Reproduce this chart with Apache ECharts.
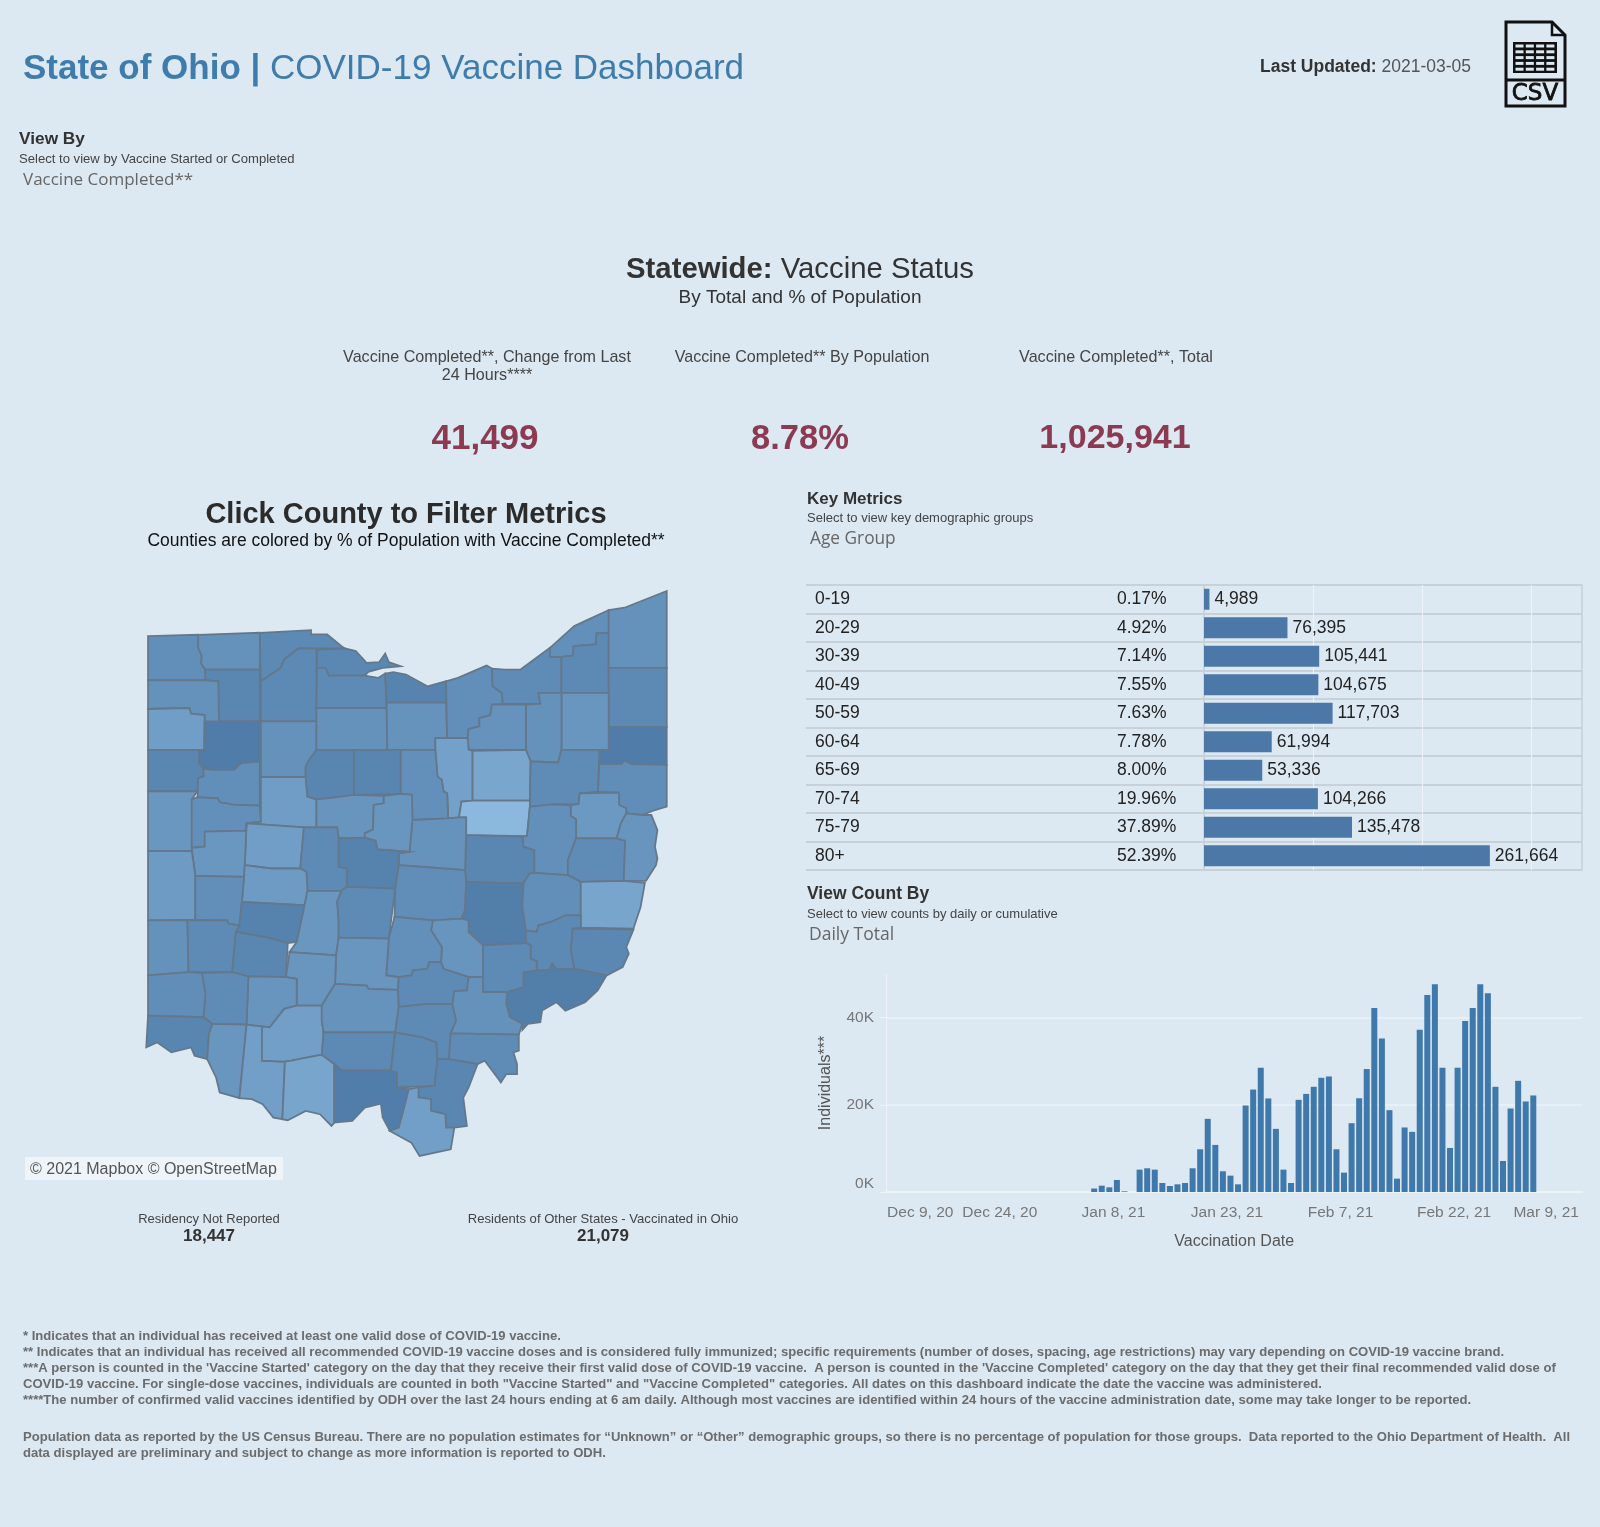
<!DOCTYPE html>
<html lang="en">
<head>
<meta charset="UTF-8" />
<title>State of Ohio | COVID-19 Vaccine Dashboard</title>
<script src="https://cdn.jsdelivr.net/npm/echarts@6/dist/echarts.min.js"></script>
<style>
    html, body { margin: 0; padding: 0; background: #dce8f2; }
    #main { width: 1600px; height: 1527px; }
</style>
</head>
<body>
<div id="main"></div>
<script>
// age group table
var ageGroups = ['0-19', '20-29', '30-39', '40-49', '50-59', '60-64', '65-69', '70-74', '75-79', '80+'];
var agePercents = ['0.17%', '4.92%', '7.14%', '7.55%', '7.63%', '7.78%', '8.00%', '19.96%', '37.89%', '52.39%'];
var ageCounts = [4989, 76395, 105441, 104675, 117703, 61994, 53336, 104266, 135478, 261664];

// daily totals, one per day from Dec 9, 20
var dailyTotals = [
    0, 0, 0, 0, 0, 0, 0, 0, 0, 0, 0, 0, 0, 0, 0, 0, 0, 0, 0, 0, 0, 0, 0, 0, 0, 0, 0,
    800, 1450, 1070, 2760, 150, 0, 5130, 5440, 5130, 2070, 1380, 1760, 2070, 5440, 9800, 16780,
    10800, 4750, 3750, 1760, 19840, 23500, 28500, 21450, 14480, 5130, 2070, 21140, 22500, 24130,
    26200, 26500, 9800, 4440, 15780, 21500, 28200, 42200, 35200, 18770, 3060, 14800, 13800, 37200,
    45200, 47650, 28500, 10100, 28500, 39200, 42200, 47650, 45600, 24130, 7120, 19150, 25500,
    20760, 22140, 0, 0, 0, 0, 0, 0
];
var dailyFirstDay = Date.UTC(2020, 11, 9);
var monthNames = ['Jan', 'Feb', 'Mar', 'Apr', 'May', 'Jun', 'Jul', 'Aug', 'Sep', 'Oct', 'Nov', 'Dec'];

// % of population with vaccine completed, same order as countyNames
var countyNames = ['Williams', 'Fulton', 'Lucas', 'Wood', 'Henry', 'Defiance', 'Paulding', 'Putnam', 'Van Wert', 'Allen', 'Mercer', 'Auglaize',
    'Hancock', 'Hardin', 'Ottawa', 'Sandusky', 'Erie', 'Seneca', 'Huron', 'Lorain', 'Cuyahoga', 'Lake', 'Geauga', 'Ashtabula',
    'Trumbull', 'Mahoning', 'Portage', 'Summit', 'Medina', 'Ashland', 'Richland', 'Wayne', 'Stark', 'Columbiana', 'Holmes', 'Carroll',
    'Tuscarawas', 'Harrison', 'Jefferson', 'Coshocton', 'Knox', 'Wyandot', 'Crawford', 'Marion', 'Morrow', 'Logan', 'Shelby', 'Darke',
    'Union', 'Delaware', 'Champaign', 'Miami', 'Clark', 'Preble', 'Montgomery', 'Greene', 'Madison', 'Franklin', 'Licking', 'Muskingum',
    'Guernsey', 'Belmont', 'Monroe', 'Noble', 'Washington', 'Morgan', 'Perry', 'Fairfield', 'Pickaway', 'Fayette', 'Clinton', 'Warren',
    'Butler', 'Hamilton', 'Clermont', 'Brown', 'Highland', 'Adams', 'Ross', 'Pike', 'Scioto', 'Jackson', 'Vinton', 'Hocking',
    'Athens', 'Meigs', 'Gallia', 'Lawrence'];
var countyPercents = [8.6, 8.8, 8.2, 8.2, 8.0, 8.8, 9.7, 7.2, 8.0, 8.6, 9.2, 8.7,
    8.8, 9.6, 8.1, 8.3, 7.8, 8.8, 8.9, 8.6, 8.4, 8.7, 8.2, 8.8,
    8.2, 7.2, 9.1, 8.8, 8.9, 9.9, 8.7, 10.3, 8.4, 8.5, 11.6, 9.3,
    8.7, 8.4, 9.0, 8.0, 8.9, 7.9, 7.9, 9.0, 9.1, 9.7, 9.2, 9.5,
    8.3, 7.7, 9.5, 8.6, 7.7, 8.8, 8.3, 8.0, 9.2, 8.3, 8.5, 7.4,
    8.6, 10.2, 8.1, 8.2, 7.4, 8.3, 9.0, 8.7, 9.1, 9.1, 9.0, 8.4,
    8.5, 7.9, 9.1, 9.8, 9.8, 10.2, 8.9, 8.2, 7.3, 8.2, 8.3, 8.3,
    8.8, 8.4, 8.0, 9.8];

// county outlines, x and y in trace units
var countyOutlines = {
    'Williams': '50,200 190,196 190,235 200,260 198,282 210,300 210,332 50,332',
    'Fulton': '190,196 362,190 362,300 210,300 198,282 200,260 190,235',
    'Lucas': '362,190 505,182 505,195 550,195 590,230 600,237 470,237 430,270 420,295 365,335',
    'Wood': '365,335 420,295 430,270 470,237 520,237 520,455 365,455',
    'Henry': '210,300 362,300 362,455 248,455 246,335 210,332',
    'Defiance': '50,332 210,332 246,335 248,455 208,456 208,436 170,432 165,415 50,418',
    'Paulding': '50,418 165,415 170,432 208,436 206,540 50,540',
    'Putnam': '208,456 362,455 362,575 310,580 290,600 230,600 200,590 192,580 192,545 208,540',
    'Van Wert': '50,540 192,540 192,580 205,597 205,620 190,625 188,664 50,664',
    'Allen': '290,600 310,580 362,575 362,707 290,705 250,697 245,685 188,682 190,625 205,620 205,597 230,600',
    'Mercer': '50,664 188,664 172,688 172,843 50,843',
    'Auglaize': '172,688 188,682 245,685 250,697 290,705 362,707 365,755 325,760 322,782 210,785 208,830 172,833',
    'Hancock': '365,455 520,455 520,540 497,575 490,590 490,622 365,622',
    'Hardin': '365,622 490,622 495,680 520,688 520,772 485,772 325,760 365,755',
    'Ottawa': '522,240 600,237 630,245 660,280 695,278 712,252 722,278 755,290 705,295 665,307 655,318 555,318 545,295 522,295',
    'Sandusky': '522,295 545,295 555,318 655,318 692,325 712,312 716,415 520,415',
    'Erie': '712,312 735,308 770,315 830,350 882,335 882,399 716,399',
    'Seneca': '520,415 716,415 718,540 520,540',
    'Huron': '716,399 882,399 885,505 852,505 852,540 718,540',
    'Lorain': '882,335 915,325 995,288 1010,297 1012,350 1038,370 1040,403 1010,405 1005,437 975,445 975,470 945,478 942,505 885,505',
    'Cuyahoga': '1010,297 1045,300 1090,300 1172,235 1172,262 1204,262 1204,370 1140,370 1145,403 1040,403 1038,370 1012,350',
    'Lake': '1172,235 1240,170 1280,150 1336,122 1336,190 1302,192 1300,225 1238,230 1236,258 1204,262 1172,262',
    'Geauga': '1204,262 1236,258 1238,230 1300,225 1302,192 1336,190 1336,370 1204,370',
    'Ashtabula': '1336,122 1380,115 1498,65 1498,295 1336,295',
    'Trumbull': '1336,295 1498,295 1498,472 1336,472',
    'Mahoning': '1336,472 1498,472 1498,585 1400,583 1382,573 1370,583 1310,583 1310,540 1336,540',
    'Portage': '1204,370 1336,370 1336,540 1204,540',
    'Summit': '1140,370 1204,370 1204,540 1195,578 1118,575 1105,540 1105,405 1145,403',
    'Medina': '1010,405 1105,405 1105,540 945,540 942,505 945,478 975,470 975,445 1005,437',
    'Ashland': '852,505 942,505 945,540 956,543 956,692 925,695 918,742 888,745 885,670 875,665 870,630 858,620 852,540',
    'Richland': '755,540 852,540 858,620 870,630 875,665 885,670 888,745 788,750 787,675 755,672',
    'Wayne': '956,543 1105,540 1118,575 1116,692 956,692',
    'Stark': '1118,575 1195,578 1204,540 1310,540 1306,665 1255,670 1252,702 1180,703 1116,710',
    'Columbiana': '1310,583 1370,583 1382,573 1400,583 1498,585 1498,710 1460,722 1430,735 1385,730 1385,715 1365,705 1365,668 1306,665',
    'Holmes': '956,692 1116,692 1116,710 1108,798 938,795 938,742 918,742 925,695',
    'Carroll': '1255,670 1365,668 1365,705 1385,715 1385,730 1370,760 1358,805 1245,805 1245,748 1230,738 1230,706 1252,702',
    'Tuscarawas': '1116,710 1180,703 1230,706 1230,738 1245,748 1245,805 1222,870 1222,915 1128,908 1128,840 1098,830 1095,800 1108,798',
    'Harrison': '1245,805 1358,805 1382,812 1378,932 1258,935 1222,915 1222,870',
    'Jefferson': '1385,730 1430,735 1455,735 1472,780 1465,830 1472,865 1468,885 1440,932 1378,932 1382,812 1358,805 1370,760',
    'Coshocton': '938,795 1095,800 1098,830 1128,840 1128,908 1115,910 1098,940 938,935 935,900',
    'Knox': '788,750 888,745 918,742 938,742 938,795 935,900 838,892 750,885 750,850 780,845',
    'Wyandot': '520,540 625,540 625,675 550,685 520,688 495,680 490,622 490,590 497,575',
    'Crawford': '625,540 755,540 755,672 625,675',
    'Marion': '520,688 550,685 625,675 708,678 708,700 680,705 678,778 655,790 655,803 582,805 578,772 520,772',
    'Morrow': '708,678 755,672 787,675 788,750 780,845 690,838 685,812 655,803 655,790 678,778 680,705 708,700',
    'Logan': '325,760 485,772 475,895 395,895 320,885',
    'Shelby': '208,785 322,782 325,760 320,885 318,920 182,917 172,833 208,830',
    'Darke': '50,843 172,843 182,917 182,1048 50,1050',
    'Union': '485,772 578,772 582,805 582,890 605,895 605,950 590,962 495,962 492,905 475,895',
    'Delaware': '582,805 655,803 685,812 690,838 780,845 750,850 750,885 740,955 605,950 605,895 582,890',
    'Champaign': '320,885 395,895 475,895 492,905 495,962 487,1005 312,995 318,920',
    'Miami': '182,917 318,920 312,995 305,1065 275,1060 270,1050 182,1048',
    'Clark': '312,995 487,1005 465,1115 440,1118 385,1102 295,1085 305,1065',
    'Preble': '50,1050 160,1050 163,1205 50,1215',
    'Montgomery': '160,1050 270,1050 275,1060 305,1065 295,1085 285,1205 163,1205',
    'Greene': '295,1085 385,1102 440,1118 435,1220 330,1218 285,1205',
    'Madison': '495,962 590,962 578,995 582,1050 582,1102 575,1155 445,1145 465,1115 487,1005',
    'Franklin': '605,950 740,955 722,1105 582,1102 582,1050 578,995 590,962',
    'Licking': '750,885 838,892 935,900 938,935 935,1020 925,1045 845,1050 738,1040 740,955',
    'Muskingum': '938,935 1098,940 1095,1010 1105,1080 1105,1118 985,1125 980,1120 945,1085 945,1050 925,1045 935,1020',
    'Guernsey': '1115,910 1128,908 1222,915 1258,935 1258,1035 1215,1035 1175,1055 1140,1065 1135,1085 1105,1080 1095,1010 1098,940',
    'Belmont': '1258,935 1378,932 1437,938 1425,1010 1405,1075 1258,1072',
    'Monroe': '1235,1075 1405,1078 1385,1130 1392,1150 1375,1190 1330,1215 1240,1195 1230,1140',
    'Noble': '1105,1080 1135,1085 1140,1065 1175,1055 1215,1035 1258,1035 1258,1072 1235,1075 1230,1140 1240,1195 1190,1195 1178,1180 1170,1200 1135,1200 1135,1172 1118,1165 1118,1125 1105,1118',
    'Washington': '1098,1205 1135,1200 1170,1200 1178,1180 1190,1195 1240,1195 1330,1215 1305,1260 1270,1295 1215,1320 1190,1295 1150,1320 1145,1355 1110,1360 1095,1378 1095,1360 1060,1340 1050,1300 1052,1265 1098,1250',
    'Morgan': '985,1125 1105,1118 1118,1125 1118,1165 1135,1172 1135,1200 1098,1205 1098,1250 1052,1265 985,1265',
    'Perry': '845,1050 925,1045 945,1050 945,1085 980,1120 985,1125 985,1220 945,1220 875,1195 868,1175 870,1130 840,1080',
    'Fairfield': '738,1040 845,1050 840,1080 870,1130 868,1175 835,1175 830,1195 790,1200 785,1215 750,1220 715,1215 722,1105',
    'Pickaway': '582,1102 722,1105 715,1215 750,1220 748,1258 665,1255 660,1245 572,1240 575,1155',
    'Fayette': '445,1145 575,1155 572,1240 535,1305 465,1305 465,1225 435,1220',
    'Clinton': '330,1218 435,1220 465,1225 465,1305 430,1315 390,1370 325,1362',
    'Warren': '200,1208 285,1205 330,1218 325,1362 230,1360 205,1340 210,1270',
    'Butler': '50,1215 163,1205 200,1208 210,1270 205,1340 50,1335',
    'Hamilton': '50,1335 205,1340 230,1360 220,1390 215,1465 180,1455 170,1430 115,1445 75,1415 45,1430',
    'Clermont': '230,1360 325,1362 305,1582 250,1565 240,1520 215,1465 220,1390',
    'Brown': '325,1362 390,1370 368,1368 368,1470 432,1473 425,1645 400,1640 370,1600 340,1585 305,1582',
    'Highland': '390,1370 430,1315 465,1305 535,1305 535,1350 540,1385 535,1452 450,1470 432,1473 368,1470 368,1368',
    'Adams': '432,1473 450,1470 535,1452 570,1480 570,1655 562,1665 530,1630 490,1620 440,1648 425,1645',
    'Ross': '572,1240 660,1245 665,1255 748,1258 750,1308 740,1385 540,1385 535,1350 535,1305',
    'Pike': '540,1385 740,1385 728,1500 590,1498 570,1480 535,1452',
    'Scioto': '570,1480 590,1498 728,1500 745,1505 745,1550 778,1555 765,1610 750,1670 725,1680 705,1640 700,1598 655,1610 620,1650 570,1655',
    'Jackson': '740,1385 818,1400 855,1415 858,1465 850,1545 745,1550 745,1505 728,1500',
    'Vinton': '750,1308 825,1300 900,1300 910,1350 895,1388 890,1465 858,1465 855,1415 818,1400 740,1385',
    'Hocking': '750,1220 785,1215 790,1200 830,1195 835,1175 868,1175 875,1195 945,1220 940,1260 905,1262 900,1300 825,1300 750,1308 748,1258',
    'Athens': '945,1220 985,1220 985,1265 1052,1265 1050,1300 1060,1340 1095,1360 1085,1392 895,1388 910,1350 900,1300 905,1262 940,1260',
    'Meigs': '895,1388 1085,1392 1085,1440 1070,1445 1080,1480 1080,1510 1050,1510 1035,1535 1025,1520 990,1470 970,1480 890,1465',
    'Gallia': '858,1465 890,1465 970,1480 945,1550 930,1580 940,1665 905,1670 882,1670 880,1630 840,1620 840,1585 805,1580 805,1550 850,1545',
    'Lawrence': '778,1555 805,1550 805,1580 840,1585 840,1620 880,1630 882,1670 905,1670 895,1735 808,1755 785,1715 725,1680 750,1670 765,1610'
};

// trace units are wider in x than in y, bring them back to one scale
function outlineToRing(outline) {
    return outline.split(' ').map(function (pair) {
        var p = pair.split(',');
        return [p[0] / 2.8, -p[1] / 3];
    });
}

var ohioGeo = {
    type: 'FeatureCollection',
    features: countyNames.map(function (name) {
        return {
            type: 'Feature',
            properties: { name: name },
            geometry: { type: 'Polygon', coordinates: [outlineToRing(countyOutlines[name])] }
        };
    })
};
echarts.registerMap('ohio', ohioGeo);

var dailyDates = dailyTotals.map(function (v, i) {
    var d = new Date(dailyFirstDay + i * 86400000);
    return monthNames[d.getUTCMonth()] + ' ' + d.getUTCDate() + ', ' + String(d.getUTCFullYear()).slice(2);
});

var footnotes = [
    '* Indicates that an individual has received at least one valid dose of COVID-19 vaccine.',
    '** Indicates that an individual has received all recommended COVID-19 vaccine doses and is considered fully immunized; specific requirements (number of doses, spacing, age restrictions) may vary depending on COVID-19 vaccine brand.',
    "***A person is counted in the 'Vaccine Started' category on the day that they receive their first valid dose of COVID-19 vaccine.  A person is counted in the 'Vaccine Completed' category on the day that they get their final recommended valid dose of",
    'COVID-19 vaccine. For single-dose vaccines, individuals are counted in both "Vaccine Started" and "Vaccine Completed" categories. All dates on this dashboard indicate the date the vaccine was administered.',
    '****The number of confirmed valid vaccines identified by ODH over the last 24 hours ending at 6 am daily. Although most vaccines are identified within 24 hours of the vaccine administration date, some may take longer to be reported.',
    'Population data as reported by the US Census Bureau. There are no population estimates for \u201CUnknown\u201D or \u201COther\u201D demographic groups, so there is no percentage of population for those groups.  Data reported to the Ohio Department of Health.  All',
    'data displayed are preliminary and subject to change as more information is reported to ODH.'
];
var footnoteY = [1336, 1352, 1368, 1384, 1400, 1437, 1453];

var SANS = '"Liberation Sans", Arial, sans-serif';
var UI = '"Open Sans", sans-serif';

function txt(x, y, text, size, color, weight, align, family) {
    return {
        type: 'text',
        x: x,
        y: y,
        silent: true,
        style: {
            text: text,
            fontSize: size,
            fontWeight: weight || 'normal',
            fontFamily: family || SANS,
            fill: color,
            align: align || 'left',
            verticalAlign: 'middle'
        }
    };
}

function richTxt(x, y, boldPart, plainPart, size, boldColor, plainColor, align) {
    return {
        type: 'text',
        x: x,
        y: y,
        silent: true,
        style: {
            text: '{b|' + boldPart + '}{n|' + plainPart + '}',
            align: align || 'left',
            verticalAlign: 'middle',
            rich: {
                b: { fontSize: size, fontWeight: 'bold', fontFamily: SANS, fill: boldColor },
                n: { fontSize: size, fontFamily: SANS, fill: plainColor }
            }
        }
    };
}

var graphics = [
    richTxt(23, 69, 'State of Ohio | ', 'COVID-19 Vaccine Dashboard', 35, '#3f7cae', '#3f7cae'),
    richTxt(1260, 67, 'Last Updated: ', '2021-03-05', 17.5, '#333333', '#555555'),

    txt(19, 139, 'View By', 17.3, '#333333', 'bold'),
    txt(19, 159, 'Select to view by Vaccine Started or Completed', 13.1, '#444444'),
    txt(23, 180, 'Vaccine Completed**', 17, '#666666', 'normal', 'left', UI),

    richTxt(800, 270, 'Statewide: ', 'Vaccine Status', 29.3, '#333333', '#333333', 'center'),
    txt(800, 298, 'By Total and % of Population', 19, '#333333', 'normal', 'center'),

    txt(487, 358, 'Vaccine Completed**, Change from Last', 16.1, '#444444', 'normal', 'center'),
    txt(487, 376, '24 Hours****', 16.1, '#444444', 'normal', 'center'),
    txt(802, 358, 'Vaccine Completed** By Population', 16.1, '#444444', 'normal', 'center'),
    txt(1116, 358, 'Vaccine Completed**, Total', 16.1, '#444444', 'normal', 'center'),
    txt(485, 439, '41,499', 35, '#8c3a52', 'bold', 'center'),
    txt(800, 439, '8.78%', 34.5, '#8c3a52', 'bold', 'center'),
    txt(1115, 439, '1,025,941', 34, '#8c3a52', 'bold', 'center'),

    txt(406, 515, 'Click County to Filter Metrics', 29, '#2b2b2b', 'bold', 'center'),
    txt(406, 541, 'Counties are colored by % of Population with Vaccine Completed**', 17.5, '#111111', 'normal', 'center'),

    { type: 'rect', x: 25, y: 1157, silent: true, shape: { width: 258, height: 23 }, style: { fill: '#eff4f8' } },
    txt(30, 1170, '\u00A9 2021 Mapbox \u00A9 OpenStreetMap', 16, '#555555'),

    txt(209, 1219, 'Residency Not Reported', 13, '#444444', 'normal', 'center'),
    txt(209, 1236, '18,447', 17, '#333333', 'bold', 'center'),
    txt(603, 1219, 'Residents of Other States - Vaccinated in Ohio', 13.1, '#444444', 'normal', 'center'),
    txt(603, 1236, '21,079', 17, '#333333', 'bold', 'center'),

    txt(807, 499, 'Key Metrics', 17, '#333333', 'bold'),
    txt(807, 518, 'Select to view key demographic groups', 13, '#444444'),
    txt(810, 539, 'Age Group', 17.3, '#666666', 'normal', 'left', UI),

    txt(807, 894, 'View Count By', 17.5, '#333333', 'bold'),
    txt(807, 914, 'Select to view counts by daily or cumulative', 13, '#444444'),
    txt(809, 935, 'Daily Total', 17.5, '#666666', 'normal', 'left', UI)
];

footnotes.forEach(function (line, i) {
    graphics.push(txt(23, footnoteY[i], line, 13.08, '#6c6c6c', 'bold'));
});

// csv file icon
graphics.push({
    type: 'polygon', silent: true,
    shape: { points: [[1506, 22], [1552, 22], [1565, 35], [1565, 106], [1506, 106]] },
    style: { fill: 'none', stroke: '#111111', lineWidth: 3 }
});
graphics.push({
    type: 'polyline', silent: true,
    shape: { points: [[1552, 22], [1552, 35], [1565, 35]] },
    style: { fill: 'none', stroke: '#111111', lineWidth: 2.5 }
});
graphics.push({
    type: 'line', silent: true,
    shape: { x1: 1506, y1: 80, x2: 1565, y2: 80 },
    style: { stroke: '#111111', lineWidth: 3 }
});
graphics.push({
    type: 'rect', silent: true,
    shape: { x: 1513, y: 42, width: 44, height: 31 },
    style: { fill: '#111111' }
});
for (var r = 0; r < 5; r++) {
    for (var c = 0; c < 4; c++) {
        graphics.push({
            type: 'rect', silent: true,
            shape: { x: 1515.5 + c * 10.3, y: 44.5 + r * 5.8, width: 8, height: 3 },
            style: { fill: '#dce8f2' }
        });
    }
}
var csvLabel = txt(1535, 94, 'CSV', 23, '#111111', 'normal', 'center', '"DejaVu Sans"');
csvLabel.style.stroke = '#111111';
csvLabel.style.lineWidth = 0.8;
graphics.push(csvLabel);

var TABLE_LINE = '#c8d0da';
var GRID_WHITE = '#edf3f8';
var AXIS_GREY = '#777777';

var chartDom = document.getElementById('main');
var myChart = echarts.init(chartDom);

var option = {
    backgroundColor: '#dce8f2',
    animation: false,
    graphic: { elements: graphics },
    visualMap: {
        show: false,
        seriesIndex: 0,
        min: 7.2,
        max: 11.6,
        inRange: { color: ['#4f7ca8', '#8bb8dd'] }
    },
    grid: [
        // full width table rows
        { left: 806, top: 585, width: 776, height: 285 },
        // count bars
        { left: 1204, top: 585, width: 378, height: 285, show: true, borderColor: TABLE_LINE, borderWidth: 1.5, backgroundColor: 'transparent' },
        // daily chart
        { left: 886, top: 974, width: 696.5, height: 218 }
    ],
    xAxis: [
        { gridIndex: 0, type: 'value', min: 0, max: 1, show: false },
        {
            gridIndex: 1, type: 'value', min: 0, max: 346000, interval: 100000,
            axisLine: { show: false }, axisTick: { show: false }, axisLabel: { show: false },
            splitLine: { show: true, showMinLine: false, showMaxLine: false, lineStyle: { color: GRID_WHITE, width: 1 } }
        },
        {
            gridIndex: 2, type: 'category', data: dailyDates,
            name: 'Vaccination Date', nameLocation: 'middle', nameGap: 42,
            nameTextStyle: { fontFamily: SANS, fontSize: 16, color: '#555555' },
            axisLine: { lineStyle: { color: GRID_WHITE, width: 1.5 } },
            axisTick: { interval: 14, length: 6, lineStyle: { color: GRID_WHITE } },
            axisLabel: {
                interval: 14, margin: 13,
                formatter: function (value) {
                    if (value === 'Dec 9, 20') return '{first|' + value + '}';
                    if (value === 'Mar 9, 21') return '{last|' + value + '}';
                    return '{mid|' + value + '}';
                },
                rich: {
                    first: { fontFamily: SANS, fontSize: 15.5, color: AXIS_GREY, padding: [0, 0, 0, 61] },
                    mid: { fontFamily: SANS, fontSize: 15.5, color: AXIS_GREY, padding: [0, 7, 0, 0] },
                    last: { fontFamily: SANS, fontSize: 15.5, color: AXIS_GREY, padding: [0, 50, 0, 0] }
                }
            }
        }
    ],
    yAxis: [
        {
            gridIndex: 0, type: 'category', inverse: true, data: ageGroups,
            axisLine: { show: false }, axisTick: { show: false },
            axisLabel: { inside: true, margin: 9, fontFamily: SANS, fontSize: 17.5, color: '#222222' },
            splitLine: { show: true, lineStyle: { color: TABLE_LINE, width: 2 } }
        },
        {
            gridIndex: 1, type: 'category', inverse: true, data: agePercents,
            axisLine: { show: true, lineStyle: { color: TABLE_LINE, width: 1 } }, axisTick: { show: false },
            axisLabel: { align: 'left', margin: 87, fontFamily: SANS, fontSize: 17.5, color: '#222222' }
        },
        {
            gridIndex: 2, type: 'value', min: 0, max: 50000, interval: 20000,
            name: 'Individuals***', nameLocation: 'middle', nameGap: 52, nameRotate: 90,
            nameTextStyle: { fontFamily: SANS, fontSize: 16, color: '#555555' },
            axisLine: { show: true, lineStyle: { color: GRID_WHITE, width: 1 } },
            axisTick: { show: true, length: 6, lineStyle: { color: GRID_WHITE } },
            axisLabel: {
                showMaxLabel: false, margin: 12, verticalAlignMinLabel: 'bottom',
                fontFamily: SANS, fontSize: 15.5, color: AXIS_GREY,
                formatter: function (v) { return (v / 1000) + 'K'; }
            },
            splitLine: { show: true, showMaxLine: false, lineStyle: { color: GRID_WHITE, width: 1.5 } }
        }
    ],
    series: [
        {
            type: 'map',
            map: 'ohio',
            roam: false,
            silent: true,
            aspectScale: 1,
            layoutCenter: [406.5, 873.5],
            layoutSize: 565,
            label: { show: false },
            itemStyle: { borderColor: '#64788c', borderWidth: 1.8 },
            data: countyNames.map(function (name, i) { return { name: name, value: countyPercents[i] }; })
        },
        {
            type: 'bar', xAxisIndex: 1, yAxisIndex: 1,
            data: ageCounts,
            barWidth: 21,
            itemStyle: { color: '#4c78a8' },
            label: {
                show: true, position: 'right', distance: 5,
                fontFamily: SANS, fontSize: 17.5, color: '#222222',
                formatter: function (p) { return p.value.toLocaleString('en-US'); }
            }
        },
        {
            type: 'bar', xAxisIndex: 2, yAxisIndex: 2,
            data: dailyTotals,
            barWidth: 6,
            itemStyle: { color: '#3f78ab' }
        }
    ]
};
myChart.setOption(option);
</script>
</body>
</html>
